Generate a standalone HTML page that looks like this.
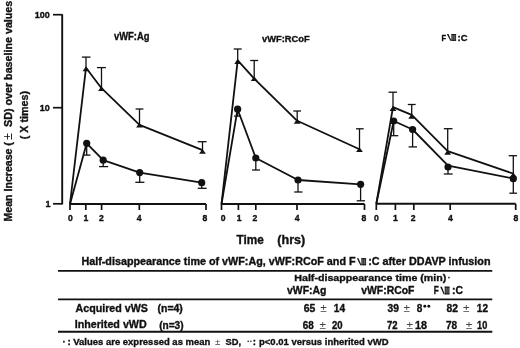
<!DOCTYPE html>
<html><head><meta charset="utf-8"><style>
html,body{margin:0;padding:0;background:#fff;}
body{width:520px;height:348px;overflow:hidden;}
svg{display:block;font-family:"Liberation Sans", sans-serif;filter:grayscale(1);} text{stroke:#111;stroke-width:0.35px;}
</style></head><body>
<svg width="520" height="348" viewBox="0 0 520 348" stroke="#111" fill="#111" stroke-linecap="butt">
<rect width="520" height="348" fill="#fff" stroke="none"/>
<line x1="62.2" y1="14.3" x2="62.2" y2="204.4" stroke-width="1.9"/>
<line x1="53" y1="14.7" x2="62.3" y2="14.7" stroke-width="1.7"/>
<line x1="53" y1="107.7" x2="62.3" y2="107.7" stroke-width="1.7"/>
<line x1="53" y1="203.8" x2="62.3" y2="203.8" stroke-width="1.7"/>
<text x="49.8" y="18.4" font-size="9" font-weight="bold" text-anchor="end" >100</text>
<text x="49.8" y="111.2" font-size="9" font-weight="bold" text-anchor="end" >10</text>
<text x="50.6" y="207.2" font-size="9" font-weight="bold" text-anchor="end" >1</text>
<line x1="70" y1="204" x2="206" y2="204" stroke-width="1.9"/>
<line x1="70" y1="204" x2="70" y2="210" stroke-width="1.7"/>
<line x1="85.8" y1="204" x2="85.8" y2="210" stroke-width="1.7"/>
<line x1="101.6" y1="204" x2="101.6" y2="210" stroke-width="1.7"/>
<line x1="139.3" y1="204" x2="139.3" y2="210" stroke-width="1.7"/>
<line x1="206" y1="204" x2="206" y2="210" stroke-width="1.7"/>
<text x="70.3" y="221" font-size="8.6" font-weight="bold" text-anchor="middle" >0</text>
<text x="85.8" y="221" font-size="8.6" font-weight="bold" text-anchor="middle" >1</text>
<text x="101.3" y="221" font-size="8.6" font-weight="bold" text-anchor="middle" >2</text>
<text x="139.2" y="221" font-size="8.6" font-weight="bold" text-anchor="middle" >4</text>
<text x="204.8" y="221" font-size="8.6" font-weight="bold" text-anchor="middle" >8</text>
<line x1="221.5" y1="204" x2="364.5" y2="204" stroke-width="1.9"/>
<line x1="221.5" y1="204" x2="221.5" y2="210" stroke-width="1.7"/>
<line x1="238.4" y1="204" x2="238.4" y2="210" stroke-width="1.7"/>
<line x1="255.8" y1="204" x2="255.8" y2="210" stroke-width="1.7"/>
<line x1="297" y1="204" x2="297" y2="210" stroke-width="1.7"/>
<line x1="364.5" y1="204" x2="364.5" y2="210" stroke-width="1.7"/>
<text x="223.2" y="221" font-size="8.6" font-weight="bold" text-anchor="middle" >0</text>
<text x="239.2" y="221" font-size="8.6" font-weight="bold" text-anchor="middle" >1</text>
<text x="255" y="221" font-size="8.6" font-weight="bold" text-anchor="middle" >2</text>
<text x="297.2" y="221" font-size="8.6" font-weight="bold" text-anchor="middle" >4</text>
<text x="363.8" y="221" font-size="8.6" font-weight="bold" text-anchor="middle" >8</text>
<line x1="376.3" y1="203.8" x2="515.7" y2="203.8" stroke-width="1.9"/>
<line x1="376.3" y1="203.8" x2="376.3" y2="210" stroke-width="1.7"/>
<line x1="395.4" y1="203.8" x2="395.4" y2="210" stroke-width="1.7"/>
<line x1="413.8" y1="203.8" x2="413.8" y2="210" stroke-width="1.7"/>
<line x1="450.2" y1="203.8" x2="450.2" y2="210" stroke-width="1.7"/>
<line x1="515.7" y1="203.8" x2="515.7" y2="210" stroke-width="1.7"/>
<text x="376.5" y="221" font-size="8.6" font-weight="bold" text-anchor="middle" >0</text>
<text x="395.5" y="221" font-size="8.6" font-weight="bold" text-anchor="middle" >1</text>
<text x="413.2" y="221" font-size="8.6" font-weight="bold" text-anchor="middle" >2</text>
<text x="450.3" y="221" font-size="8.6" font-weight="bold" text-anchor="middle" >4</text>
<text x="515.9" y="221" font-size="8.6" font-weight="bold" text-anchor="middle" >8</text>
<polyline points="70,204 86,67.7 101.5,88.2 139.5,124.8 202.5,150.2" fill="none" stroke-width="1.8" stroke-linejoin="round"/>
<polygon points="86,66.3 82.6,71.2 89.4,71.2" stroke="none"/>
<line x1="86" y1="67.3" x2="86" y2="57.1" stroke-width="1.3"/>
<line x1="81.9" y1="57.1" x2="90.5" y2="57.1" stroke-width="1.3"/>
<polygon points="101.5,86.2 98.1,91.10000000000001 104.9,91.10000000000001" stroke="none"/>
<line x1="101.5" y1="87.2" x2="101.5" y2="67.6" stroke-width="1.3"/>
<line x1="96.9" y1="67.6" x2="105.9" y2="67.6" stroke-width="1.3"/>
<polygon points="139.5,122.7 136.1,127.60000000000001 142.9,127.60000000000001" stroke="none"/>
<line x1="139.5" y1="123.7" x2="139.5" y2="109" stroke-width="1.3"/>
<line x1="135.6" y1="109" x2="143.4" y2="109" stroke-width="1.3"/>
<polygon points="202.5,148.9 199.1,153.8 205.9,153.8" stroke="none"/>
<line x1="202.5" y1="149.9" x2="202.5" y2="141.7" stroke-width="1.3"/>
<line x1="197.7" y1="141.7" x2="206.6" y2="141.7" stroke-width="1.3"/>
<polyline points="70,204 86.7,143.3 103.2,160.2 139.7,172.6 201.7,182.7" fill="none" stroke-width="1.8" stroke-linejoin="round"/>
<circle cx="86.7" cy="143.3" r="3.6" stroke="none"/>
<line x1="86.7" y1="143.3" x2="86.7" y2="155.1" stroke-width="1.3"/>
<line x1="83.7" y1="155.1" x2="90.5" y2="155.1" stroke-width="1.3"/>
<circle cx="103.2" cy="160.2" r="3.6" stroke="none"/>
<line x1="103.2" y1="160.2" x2="103.2" y2="166.6" stroke-width="1.3"/>
<line x1="99.1" y1="166.6" x2="108.2" y2="166.6" stroke-width="1.3"/>
<circle cx="139.7" cy="172.6" r="3.6" stroke="none"/>
<line x1="139.7" y1="172.6" x2="139.7" y2="182.3" stroke-width="1.3"/>
<line x1="135.3" y1="182.3" x2="144.4" y2="182.3" stroke-width="1.3"/>
<circle cx="201.7" cy="182.7" r="3.6" stroke="none"/>
<line x1="201.7" y1="182.7" x2="201.7" y2="188.3" stroke-width="1.3"/>
<line x1="197.7" y1="188.3" x2="206.6" y2="188.3" stroke-width="1.3"/>
<polyline points="221.5,204 237.7,60.3 254.2,78.6 297.2,120.8 359.5,149.2" fill="none" stroke-width="1.8" stroke-linejoin="round"/>
<polygon points="237.7,59.1 234.29999999999998,64.0 241.1,64.0" stroke="none"/>
<line x1="237.7" y1="60.1" x2="237.7" y2="49" stroke-width="1.3"/>
<line x1="233.7" y1="49" x2="241.7" y2="49" stroke-width="1.3"/>
<polygon points="254.2,76.2 250.79999999999998,81.10000000000001 257.59999999999997,81.10000000000001" stroke="none"/>
<line x1="254.2" y1="77.2" x2="254.2" y2="60.5" stroke-width="1.3"/>
<line x1="250.2" y1="60.5" x2="258.2" y2="60.5" stroke-width="1.3"/>
<polygon points="297.2,118.8 293.8,123.7 300.59999999999997,123.7" stroke="none"/>
<line x1="297.2" y1="119.8" x2="297.2" y2="111" stroke-width="1.3"/>
<line x1="293.3" y1="111" x2="301" y2="111" stroke-width="1.3"/>
<polygon points="359.5,147.2 356.1,152.1 362.9,152.1" stroke="none"/>
<line x1="359.5" y1="148.2" x2="359.5" y2="128.8" stroke-width="1.3"/>
<line x1="356" y1="128.8" x2="363.7" y2="128.8" stroke-width="1.3"/>
<polyline points="221.5,204 237.6,109.2 255.8,158 298,180 360.6,184.3" fill="none" stroke-width="1.8" stroke-linejoin="round"/>
<circle cx="237.6" cy="109.2" r="3.6" stroke="none"/>
<line x1="237.6" y1="109.2" x2="237.6" y2="116.1" stroke-width="1.3"/>
<line x1="234" y1="116.1" x2="240.5" y2="116.1" stroke-width="1.3"/>
<circle cx="255.8" cy="158" r="3.6" stroke="none"/>
<line x1="255.8" y1="158" x2="255.8" y2="170" stroke-width="1.3"/>
<line x1="252" y1="170" x2="260" y2="170" stroke-width="1.3"/>
<circle cx="298" cy="180" r="3.6" stroke="none"/>
<line x1="298" y1="180" x2="298" y2="192" stroke-width="1.3"/>
<line x1="294.2" y1="192" x2="302.5" y2="192" stroke-width="1.3"/>
<circle cx="360.6" cy="184.3" r="3.6" stroke="none"/>
<line x1="360.6" y1="184.3" x2="360.6" y2="200.8" stroke-width="1.3"/>
<line x1="356.7" y1="200.8" x2="365" y2="200.8" stroke-width="1.3"/>
<polyline points="376.3,203.8 393,107.2 411.7,114.9 447.7,151.1 513.3,173.7" fill="none" stroke-width="1.8" stroke-linejoin="round"/>
<polygon points="393,106 389.6,110.9 396.4,110.9" stroke="none"/>
<line x1="393" y1="107" x2="393" y2="92.2" stroke-width="1.3"/>
<line x1="388.5" y1="92.2" x2="397" y2="92.2" stroke-width="1.3"/>
<polygon points="411.7,113.8 408.3,118.7 415.09999999999997,118.7" stroke="none"/>
<line x1="411.7" y1="114.8" x2="411.7" y2="104.5" stroke-width="1.3"/>
<line x1="407.8" y1="104.5" x2="415.6" y2="104.5" stroke-width="1.3"/>
<polygon points="447.7,149.8 444.3,154.70000000000002 451.09999999999997,154.70000000000002" stroke="none"/>
<line x1="447.7" y1="150.8" x2="447.7" y2="128.7" stroke-width="1.3"/>
<line x1="443.8" y1="128.7" x2="452.5" y2="128.7" stroke-width="1.3"/>
<polygon points="513.3,172.4 509.9,177.3 516.6999999999999,177.3" stroke="none"/>
<line x1="513.3" y1="173.4" x2="513.3" y2="155.7" stroke-width="1.3"/>
<line x1="508.7" y1="155.7" x2="517" y2="155.7" stroke-width="1.3"/>
<polyline points="376.3,203.8 393.7,121 412.6,129.5 448,165.6 513.3,178.5" fill="none" stroke-width="1.8" stroke-linejoin="round"/>
<circle cx="393.7" cy="121" r="3.6" stroke="none"/>
<line x1="393.7" y1="121" x2="393.7" y2="135.7" stroke-width="1.3"/>
<line x1="390.5" y1="135.7" x2="398.3" y2="135.7" stroke-width="1.3"/>
<circle cx="412.6" cy="129.5" r="3.6" stroke="none"/>
<line x1="412.6" y1="129.5" x2="412.6" y2="146.9" stroke-width="1.3"/>
<line x1="408.6" y1="146.9" x2="417" y2="146.9" stroke-width="1.3"/>
<circle cx="448" cy="167" r="3.6" stroke="none"/>
<line x1="448" y1="167" x2="448" y2="174" stroke-width="1.3"/>
<line x1="443.8" y1="174" x2="452.6" y2="174" stroke-width="1.3"/>
<circle cx="513.3" cy="178.7" r="3.6" stroke="none"/>
<line x1="513.3" y1="178.7" x2="513.3" y2="193.2" stroke-width="1.3"/>
<line x1="509.4" y1="193.2" x2="517" y2="193.2" stroke-width="1.3"/>
<text x="114" y="40.1" font-size="10" font-weight="bold" text-anchor="start" textLength="35.5" lengthAdjust="spacingAndGlyphs" >vWF:Ag</text>
<text x="262" y="42.2" font-size="9.8" font-weight="bold" text-anchor="start" textLength="47.6" lengthAdjust="spacingAndGlyphs" >vWF:RCoF</text>
<text x="441.6" y="40.8" font-size="9.4" font-weight="bold" text-anchor="start" textLength="4.6" lengthAdjust="spacingAndGlyphs" >F</text>
<polygon points="446.9,34.0 448.5,34.0 451.5,40.8 450.29999999999995,40.8" stroke="none"/>
<rect x="451.4" y="34.0" width="4.7" height="6.799999999999997" fill="#777" stroke="none"/>
<rect x="451.4" y="34.0" width="4.7" height="1" fill="#111" stroke="none"/>
<rect x="451.4" y="39.8" width="4.7" height="1" fill="#111" stroke="none"/>
<rect x="451.59999999999997" y="34.0" width="0.8" height="6.799999999999997" fill="#222" stroke="none"/>
<rect x="453.4" y="34.0" width="0.8" height="6.799999999999997" fill="#222" stroke="none"/>
<rect x="455.2" y="34.0" width="0.8" height="6.799999999999997" fill="#222" stroke="none"/>
<text x="457.6" y="40.8" font-size="9.4" font-weight="bold" text-anchor="start" >:C</text>
<text transform="translate(12.2,221.5) rotate(-90)" font-size="11" font-weight="bold" textLength="73.0" lengthAdjust="spacingAndGlyphs">Mean Increase</text>
<text transform="translate(12.2,221.5) rotate(-90)" x="75.85" font-size="11" font-weight="bold">(</text>
<text transform="translate(11.6,221.5) rotate(-90)" x="81.6" font-size="12.5" font-weight="normal" style="stroke:none">±</text>
<text transform="translate(12.2,221.5) rotate(-90)" x="94.6" font-size="11" font-weight="bold" textLength="126.2" lengthAdjust="spacingAndGlyphs">SD) over baseline values</text>
<text transform="translate(28.4,139.3) rotate(-90)" font-size="11" font-weight="bold" textLength="48.3" lengthAdjust="spacingAndGlyphs">( X times)</text>
<text x="236.4" y="243.5" font-size="12.6" font-weight="bold" text-anchor="start" textLength="27.3" lengthAdjust="spacingAndGlyphs" >Time</text>
<text x="277.3" y="243.5" font-size="12.2" font-weight="bold" text-anchor="start" textLength="28" lengthAdjust="spacingAndGlyphs" >(hrs)</text>
<line x1="58" y1="270.9" x2="492.3" y2="270.9" stroke-width="1.7"/>
<line x1="58" y1="299.4" x2="492.3" y2="299.4" stroke-width="1.8"/>
<line x1="58" y1="331.8" x2="492.3" y2="331.8" stroke-width="1.9"/>
<text x="81.4" y="265.4" font-size="10.4" font-weight="bold" text-anchor="start" textLength="274.2" lengthAdjust="spacingAndGlyphs" >Half-disappearance time of vWF:Ag, vWF:RCoF and F</text>
<polygon points="356.9,258.2 358.5,258.2 361.5,265.2 360.29999999999995,265.2" stroke="none"/>
<rect x="361.4" y="258.2" width="4.7" height="7.0" fill="#777" stroke="none"/>
<rect x="361.4" y="258.2" width="4.7" height="1" fill="#111" stroke="none"/>
<rect x="361.4" y="264.2" width="4.7" height="1" fill="#111" stroke="none"/>
<rect x="361.59999999999997" y="258.2" width="0.8" height="7.0" fill="#222" stroke="none"/>
<rect x="363.4" y="258.2" width="0.8" height="7.0" fill="#222" stroke="none"/>
<rect x="365.2" y="258.2" width="0.8" height="7.0" fill="#222" stroke="none"/>
<text x="368.2" y="265.4" font-size="10.4" font-weight="bold" text-anchor="start" textLength="122.3" lengthAdjust="spacingAndGlyphs" >:C after DDAVP infusion</text>
<text x="294.3" y="280.5" font-size="9.9" font-weight="bold" text-anchor="start" textLength="152" lengthAdjust="spacingAndGlyphs" >Half-disappearance time (min)</text>
<text x="447.2" y="280.5" font-size="10" font-weight="normal" text-anchor="start" >·</text>
<text x="287" y="294.3" font-size="10.6" font-weight="bold" text-anchor="start" textLength="39.4" lengthAdjust="spacingAndGlyphs" >vWF:Ag</text>
<text x="361.2" y="294.3" font-size="10.6" font-weight="bold" text-anchor="start" textLength="53.2" lengthAdjust="spacingAndGlyphs" >vWF:RCoF</text>
<text x="433.7" y="294.3" font-size="10.4" font-weight="bold" text-anchor="start" textLength="5.0" lengthAdjust="spacingAndGlyphs" >F</text>
<polygon points="440.2,286.7 441.8,286.7 444.8,294.3 443.59999999999997,294.3" stroke="none"/>
<rect x="444.7" y="286.7" width="4.7" height="7.600000000000023" fill="#777" stroke="none"/>
<rect x="444.7" y="286.7" width="4.7" height="1" fill="#111" stroke="none"/>
<rect x="444.7" y="293.3" width="4.7" height="1" fill="#111" stroke="none"/>
<rect x="444.9" y="286.7" width="0.8" height="7.600000000000023" fill="#222" stroke="none"/>
<rect x="446.7" y="286.7" width="0.8" height="7.600000000000023" fill="#222" stroke="none"/>
<rect x="448.5" y="286.7" width="0.8" height="7.600000000000023" fill="#222" stroke="none"/>
<text x="452.0" y="294.3" font-size="10.4" font-weight="bold" text-anchor="start" >:C</text>
<text x="75.5" y="311.9" font-size="10.8" font-weight="bold" text-anchor="start" textLength="72.5" lengthAdjust="spacingAndGlyphs" >Acquired vWS</text>
<text x="157.6" y="312.4" font-size="10" font-weight="bold" text-anchor="start" textLength="25.2" lengthAdjust="spacingAndGlyphs" >(n=4)</text>
<text x="74.7" y="328.2" font-size="10.8" font-weight="bold" text-anchor="start" textLength="72" lengthAdjust="spacingAndGlyphs" >Inherited vWD</text>
<text x="159.2" y="328.8" font-size="10" font-weight="bold" text-anchor="start" textLength="24.4" lengthAdjust="spacingAndGlyphs" >(n=3)</text>
<text x="303.8" y="312" font-size="10.0" font-weight="bold" text-anchor="start" textLength="11.6" lengthAdjust="spacingAndGlyphs" >65</text>
<text x="320.2" y="312.3" font-size="11.8" font-weight="normal" text-anchor="start" fill="#444" style="stroke:none">±</text>
<text x="333.8" y="312" font-size="10.0" font-weight="bold" text-anchor="start" textLength="11.2" lengthAdjust="spacingAndGlyphs" >14</text>
<text x="387.6" y="312" font-size="10.0" font-weight="bold" text-anchor="start" textLength="11.4" lengthAdjust="spacingAndGlyphs" >39</text>
<text x="403.5" y="312.3" font-size="11.8" font-weight="normal" text-anchor="start" fill="#444" style="stroke:none">±</text>
<text x="416.8" y="312" font-size="10.0" font-weight="bold" text-anchor="start" textLength="5.6" lengthAdjust="spacingAndGlyphs" >8</text>
<text x="446.4" y="312" font-size="10.0" font-weight="bold" text-anchor="start" textLength="11.5" lengthAdjust="spacingAndGlyphs" >82</text>
<text x="463.09999999999997" y="312.3" font-size="11.8" font-weight="normal" text-anchor="start" fill="#444" style="stroke:none">±</text>
<text x="476.8" y="312" font-size="10.0" font-weight="bold" text-anchor="start" textLength="11.2" lengthAdjust="spacingAndGlyphs" >12</text>
<text x="302.7" y="328.5" font-size="10.0" font-weight="bold" text-anchor="start" textLength="11" lengthAdjust="spacingAndGlyphs" >68</text>
<text x="319.5" y="328.8" font-size="11.8" font-weight="normal" text-anchor="start" fill="#444" style="stroke:none">±</text>
<text x="332" y="328.5" font-size="10.0" font-weight="bold" text-anchor="start" textLength="10.6" lengthAdjust="spacingAndGlyphs" >20</text>
<text x="387" y="328.5" font-size="10.0" font-weight="bold" text-anchor="start" textLength="10.6" lengthAdjust="spacingAndGlyphs" >72</text>
<text x="406.4" y="328.8" font-size="11.8" font-weight="normal" text-anchor="start" fill="#444" style="stroke:none">±</text>
<text x="414.9" y="328.5" font-size="10.0" font-weight="bold" text-anchor="start" textLength="12" lengthAdjust="spacingAndGlyphs" >18</text>
<text x="446" y="328.5" font-size="10.0" font-weight="bold" text-anchor="start" textLength="11.2" lengthAdjust="spacingAndGlyphs" >78</text>
<text x="465.8" y="328.8" font-size="11.8" font-weight="normal" text-anchor="start" fill="#444" style="stroke:none">±</text>
<text x="477.1" y="328.5" font-size="10.0" font-weight="bold" text-anchor="start" textLength="10.2" lengthAdjust="spacingAndGlyphs" >10</text>
<circle cx="424.8" cy="306.3" r="1.45" stroke="none"/>
<circle cx="428.8" cy="306.3" r="1.45" stroke="none"/>
<text x="62.6" y="344.6" font-size="9.8" font-weight="bold">·</text>
<text x="67.5" y="344.6" font-size="9.8" font-weight="bold" text-anchor="start" >:</text>
<text x="73.3" y="344.6" font-size="9.8" font-weight="bold" text-anchor="start" textLength="137" lengthAdjust="spacingAndGlyphs" >Values are expressed as mean</text>
<text x="214.9" y="344.8" font-size="9.8" font-weight="normal" text-anchor="start" fill="#444" style="stroke:none">±</text>
<text x="225.6" y="344.6" font-size="9.8" font-weight="bold" text-anchor="start" textLength="15.6" lengthAdjust="spacingAndGlyphs" >SD,</text>
<circle cx="248.2" cy="341.3" r="0.8" stroke="none"/>
<circle cx="250.9" cy="341.3" r="0.8" stroke="none"/>
<text x="252.7" y="344.6" font-size="9.8" font-weight="bold" text-anchor="start" >:</text>
<text x="259.0" y="344.6" font-size="9.8" font-weight="bold" text-anchor="start" textLength="129.6" lengthAdjust="spacingAndGlyphs" >p&lt;0.01 versus inherited vWD</text>
</svg>
</body></html>
